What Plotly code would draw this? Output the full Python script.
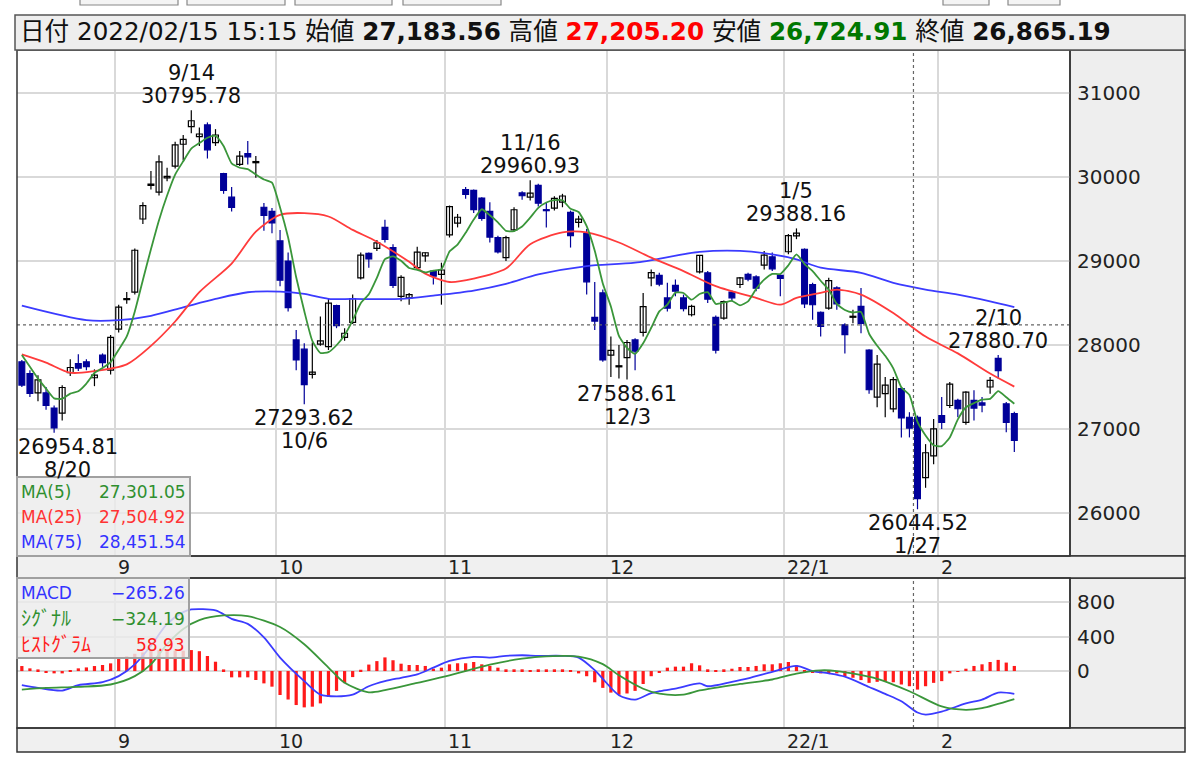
import plotly.graph_objects as go

# ---------------- data ----------------
dates = ["8/16","8/17","8/18","8/19","8/20","8/23","8/24","8/25","8/26","8/27","8/30","8/31",
 "9/1","9/2","9/3","9/6","9/7","9/8","9/9","9/10","9/13","9/14","9/15","9/16","9/17","9/21","9/22","9/24","9/27","9/28","9/29","9/30",
 "10/1","10/4","10/5","10/6","10/7","10/8","10/11","10/12","10/13","10/14","10/15","10/18","10/19","10/20","10/21","10/22","10/25","10/26","10/27","10/28","10/29",
 "11/1","11/2","11/4","11/5","11/8","11/9","11/10","11/11","11/12","11/15","11/16","11/17","11/18","11/19","11/22","11/24","11/25","11/26","11/29","11/30",
 "12/1","12/2","12/3","12/6","12/7","12/8","12/9","12/10","12/13","12/14","12/15","12/16","12/17","12/20","12/21","12/22","12/23","12/24","12/27","12/28","12/29","12/30",
 "1/4","1/5","1/6","1/7","1/11","1/12","1/13","1/14","1/17","1/18","1/19","1/20","1/21","1/24","1/25","1/26","1/27","1/28","1/31",
 "2/1","2/2","2/3","2/4","2/7","2/8","2/9","2/10","2/14","2/15"]

opens = [27800,27660,27430,27430,27250,27190,27670,27780,27800,27610,27880,27700,
 28190,28540,28630,29500,29900,29820,29990,30130,30390,30600,30480,30620,30410,30040,29760,30150,30280,30170,29640,29590,
 29240,29000,28060,27950,27650,28010,27980,28470,28090,28270,28800,29090,29150,29400,29160,28580,28560,28920,29060,28880,28840,
 29310,29450,29850,29840,29750,29590,29280,29040,29370,29810,29760,29900,29600,29630,29700,29580,29460,29330,28330,28620,
 27880,27740,27850,28060,28150,28800,28830,28560,28710,28560,28360,28870,28860,28330,28320,28630,28720,28840,28810,28950,29050,28830,
 29110,29300,29140,28720,28390,28440,28680,28240,28330,28460,27940,27380,27420,27240,27480,27140,27140,26420,26680,
 27160,27280,27340,27080,27340,27310,27500,27840,27300,27183.56]
highs = [27820,27700,27640,27500,27280,27520,27830,27890,27830,27710,27900,28120,
 28480,28630,29150,29700,30070,30260,30110,30420,30500,30795.78,30590,30650,30570,30050,29880,30310,30430,30250,29690,29630,
 29370,29100,28180,28020,28030,28340,28560,28480,28200,28600,29100,29100,29250,29490,29200,28830,28620,29170,29100,28880,28980,
 29660,29560,29880,29850,29760,29700,29300,29300,29640,29830,29960.93,29920,29690,29770,29800,29600,29540,29380,28750,28660,
 28100,28000,28060,28080,28620,28900,28860,28740,28780,28600,28480,29070,28880,28350,28530,28650,28810,28860,28830,29120,29100,28840,
 29320,29388.16,29150,28740,28400,28800,28700,28260,28420,28680,27950,27880,27620,27620,27500,27200,27160,26820,27120,
 27380,27560,27360,27450,27460,27380,27620,27880.70,27320,27205.20]
lows = [27500,27380,27330,27230,26954.81,27100,27630,27690,27700,27510,27740,27650,
 28150,28490,28600,29440,29850,29780,29950,30100,30200,30520,30370,30220,30370,29800,29590,30130,30150,29990,29360,29330,
 28700,28400,27700,27293.62,27600,27990,27940,28200,28050,28250,28780,28920,29120,29220,28680,28520,28480,28900,28990,28720,28480,
 29280,29400,29740,29570,29480,29220,29090,29000,29350,29730,29720,29650,29400,29600,29640,29160,29400,28600,28180,27800,
 27620,27600,27588.61,27700,28100,28700,28700,28400,28580,28400,28340,28850,28500,27900,28300,28520,28680,28760,28640,28900,28880,28580,
 29080,29260,28440,28300,28100,28420,28420,27900,28260,28140,27420,27260,27140,27200,26900,26900,26044.52,26300,26580,
 27000,27250,27140,27050,27100,27200,27420,27600,26960,26724.91]
closes = [27523,27424,27585,27281,27013,27494,27732,27725,27742,27641,27789,28090,
 28451,28544,29128,29660,29916,30181,30008,30382,30447,30670,30512,30323,30500,29840,29639,30249,30240,30184,29544,29453,
 28771,28445,27822,27529,27678,28049,28498,28231,28140,28551,29069,29025,29216,29256,28709,28805,28600,29106,29098,28820,28893,
 29647,29521,29794,29612,29507,29285,29107,29278,29610,29777,29808,29688,29599,29746,29774,29303,29499,28752,28284,27822,
 27936,27753,28030,27927,28456,28861,28725,28438,28640,28433,28460,29066,28546,27938,28518,28562,28798,28783,28676,29069,28907,28792,
 29302,29332,28488,28479,28222,28766,28489,28124,28334,28257,27467,27773,27522,27588,27131,27011,26170,26717,27002,
 27078,27534,27241,27440,27249,27285,27580,27696,27080,26865.19]

ma5 = [27880,27740,27600,27480,27365,27359,27421,27449,27541,27667,27726,27797,
 27943,28103,28400,28775,29140,29486,29779,30029,30187,30338,30404,30467,30490,30369,30163,30110,30094,30030,29971,29934,
 29638,29279,28807,28404,28049,27905,27915,27997,28119,28294,28498,28603,28800,29023,29055,29002,28917,28895,28864,28886,28903,
 29113,29196,29335,29493,29616,29544,29461,29358,29357,29411,29516,29632,29696,29724,29723,29622,29584,29415,29122,28732,
 28459,28109,27965,27894,28020,28205,28400,28481,28624,28619,28539,28607,28629,28489,28506,28526,28472,28520,28667,28778,28847,28845,
 28949,29080,28964,28879,28765,28657,28489,28416,28387,28394,28134,27991,27871,27721,27496,27405,27084,26923,26806,
 26796,26900,27114,27259,27308,27350,27359,27450,27378,27301.05]

ma25_on = ["8/16","8/19","8/24","8/27","9/2","9/7","9/10","9/15","9/22","9/28","10/1","10/6","10/11","10/14","10/19",
 "10/25","10/27","11/1","11/5","11/11","11/16","11/22","11/26","12/2","12/8","12/14","12/20","12/27","12/30","1/5",
 "1/11","1/13","1/18","1/24","1/28","2/3","2/9","2/15"]
ma25 = [27888,27790,27670,27690,27770,27990,28280,28630,28970,29350,29550,29570,29530,29370,29230,
 28990,28850,28750,28790,28910,29200,29340,29340,29220,29040,28880,28700,28560,28480,28560,
 28620,28660,28600,28380,28100,27900,27660,27504.92]

ma75_on = ["8/16","8/26","9/1","9/7","9/13","9/17","9/27","10/1","10/6","10/11","10/14","10/22","10/28","11/5","11/11",
 "11/17","11/26","12/6","12/16","12/23","12/29","1/5","1/11","1/18","1/24","1/28","2/3","2/9","2/15"]
ma75 = [28468,28296,28296,28348,28448,28548,28628,28636,28608,28550,28548,28548,28588,28648,28728,
 28840,28940,28980,29108,29120,29080,29020,28920,28860,28740,28660,28600,28520,28451.54]

macd_on = ["8/16","8/18","8/23","8/25","8/30","9/1","9/3","9/7","9/9","9/13","9/14","9/17","9/22","9/27","9/29",
 "10/1","10/6","10/8","10/12","10/14","10/18","10/20","10/22","10/26","10/28","11/1","11/5","11/9","11/11","11/15",
 "11/17","11/22","11/25","11/29","11/30","12/2","12/6","12/8","12/9","12/13","12/16","12/17","12/22","12/24","12/29",
 "1/5","1/7","1/12","1/14","1/19","1/21","1/25","1/27","1/28","2/1","2/4","2/8","2/10","2/15"]
macd = [-164,-195,-226,-164,-129,-59,78,293,546,683,714,702,605,546,390,
 156,-117,-273,-293,-273,-176,-117,-78,-39,39,117,164,156,176,183,
 176,176,156,10,-91,-280,-332,-255,-234,-205,-144,-176,-125,-85,-10,
 59,0,-27,-66,-185,-265,-350,-480,-505,-470,-375,-332,-250,-265.26]

signal_on = ["8/16","8/19","8/25","8/31","9/3","9/7","9/9","9/13","9/15","9/21","9/27","10/1","10/6","10/11","10/13",
 "10/18","10/20","10/26","11/1","11/9","11/15","11/17","11/25","11/30","12/2","12/7","12/9","12/14","12/16","12/23",
 "12/29","1/5","1/11","1/13","1/20","1/26","2/1","2/4","2/8","2/15"]
signal = [-215,-195,-183,-156,-59,78,312,488,590,644,636,510,310,40,-137,
 -246,-222,-137,-50,75,144,165,168,80,-50,-205,-262,-273,-225,-150,
 -98,-30,8,0,-90,-234,-410,-449,-429,-324.19]

hist = [58,31,19,-20,-27,-27,5,31,42,58,70,89,
 140,170,200,215,234,242,238,236,236,243,230,174,108,19,-73,-73,-73,-104,-143,-181,
 -278,-330,-394,-421,-413,-375,-300,-230,-140,-70,15,75,115,158,125,85,70,70,59,27,39,
 78,90,90,105,78,59,39,20,20,20,12,20,20,20,20,12,-27,-60,-130,-195,
 -250,-275,-260,-230,-150,-60,-12,39,51,51,90,66,20,12,20,27,47,47,59,78,78,90,
 105,66,8,-12,-27,-20,-27,-59,-78,-105,-137,-125,-117,-130,-156,-176,-215,-176,-137,
 -117,-27,-5,27,59,78,105,129,98,58.93]

month_labels = {"9/1": "9", "10/1": "10", "11/1": "11", "12/1": "12", "1/4": "22/1", "2/1": "2"}
peaks = ["9/14", "11/16", "1/5", "2/10"]
troughs = ["8/20", "10/6", "12/3", "1/27"]
price_ticks = [26000, 27000, 28000, 29000, 30000, 31000]
macd_ticks = [0, 400, 800]
stamp = "2022/02/15 15:15"
cross_price = 28240
cross_day = "1/27"

# ---------------- helpers ----------------
W, H = 1200, 758
L, R, T, B = 17, 1070, 50, 728


def px(x):
    return (x - L) / (R - L)


def py(y):
    return (B - y) / (B - T)


pos = {d: i for i, d in enumerate(dates)}
X = list(range(len(dates)))
XR = [-0.6, 129.9]
bounds = [pos[d] - 0.5 for d in month_labels]

FONT = "DejaVu Sans, Noto Sans CJK JP, sans-serif"
GRID = "#d9d9d9"
GREEN, RED, BLUE, NAVY = "#3a963a", "#ff3b3b", "#3b3bff", "#000099"

fig = go.Figure()

# ---- candles: wicks (scatter segments) + bodies (bars) ----
up = [c >= o for o, c in zip(opens, closes)]
for want, col in ((True, "#000000"), (False, NAVY)):
    wx, wy = [], []
    for i in X:
        if up[i] == want:
            wx += [i, i, None]
            wy += [lows[i], highs[i], None]
    fig.add_trace(go.Scatter(x=wx, y=wy, xaxis="x2", yaxis="y", mode="lines",
                             line=dict(color=col, width=1.2), hoverinfo="skip"))
MIN_BODY = 12
fig.add_trace(go.Bar(
    x=X, y=[max(abs(c - o), MIN_BODY) for o, c in zip(opens, closes)],
    base=[min(o, c) for o, c in zip(opens, closes)], xaxis="x2", yaxis="y", width=0.72,
    marker=dict(color=["#ffffff" if u else NAVY for u in up],
                line=dict(color=["#000000" if u else NAVY for u in up], width=1.2)),
    hoverinfo="skip"))

fig.add_trace(go.Scatter(x=[pos[d] for d in ma75_on], y=ma75, xaxis="x2", yaxis="y", mode="lines",
                         line=dict(color=BLUE, width=1.8, shape="spline", smoothing=0.8), hoverinfo="skip"))
fig.add_trace(go.Scatter(x=[pos[d] for d in ma25_on], y=ma25, xaxis="x2", yaxis="y", mode="lines",
                         line=dict(color=RED, width=1.8, shape="spline", smoothing=0.8), hoverinfo="skip"))
fig.add_trace(go.Scatter(x=X, y=ma5, xaxis="x2", yaxis="y", mode="lines",
                         line=dict(color=GREEN, width=1.8, shape="spline", smoothing=0.5), hoverinfo="skip"))

fig.add_trace(go.Bar(x=X, y=hist, xaxis="x", yaxis="y2", width=0.4,
                     marker=dict(color="#ff1a1a", line=dict(width=0)), hoverinfo="skip"))
fig.add_trace(go.Scatter(x=[pos[d] for d in macd_on], y=macd, xaxis="x", yaxis="y2", mode="lines",
                         line=dict(color=BLUE, width=1.8, shape="spline", smoothing=0.8), hoverinfo="skip"))
fig.add_trace(go.Scatter(x=[pos[d] for d in signal_on], y=signal, xaxis="x", yaxis="y2", mode="lines",
                         line=dict(color=GREEN, width=1.8, shape="spline", smoothing=0.8), hoverinfo="skip"))

xcommon = dict(range=XR, tickvals=bounds, showticklabels=False, showgrid=True, gridcolor=GRID,
               gridwidth=2, zeroline=False, showline=False, ticks="", fixedrange=True)
fig.update_layout(
    width=W, height=H, showlegend=False, barmode="overlay",
    paper_bgcolor="white", plot_bgcolor="white",
    margin=dict(l=L, r=W - R, t=T, b=H - B),
    xaxis=dict(anchor="y2", domain=[0, 1], **xcommon),
    xaxis2=dict(anchor="y", domain=[0, 1], matches="x", **xcommon),
    yaxis=dict(domain=[py(556), 1], range=[25488, 31512], side="right", tickvals=price_ticks,
               ticktext=[str(v) for v in price_ticks], showgrid=True, gridcolor=GRID, gridwidth=2,
               zeroline=False, showline=False, ticks="", ticklabelstandoff=6, fixedrange=True,
               tickfont=dict(family=FONT, size=20, color="#222")),
    yaxis2=dict(domain=[0, py(578)], range=[-660, 1078], side="right", tickvals=macd_ticks,
                ticktext=[str(v) for v in macd_ticks], showgrid=True, gridcolor=GRID, gridwidth=2,
                zeroline=False, showline=False, ticks="", ticklabelstandoff=6, fixedrange=True,
                tickfont=dict(family=FONT, size=20, color="#222")),
)

shapes = []
DARK = "#333333"
# right axis panels
shapes.append(dict(type="rect", xref="paper", yref="paper", x0=1, x1=px(1185), y0=py(556), y1=1,
                   fillcolor="#eeeeee", line=dict(color=DARK, width=1.5), layer="below"))
shapes.append(dict(type="rect", xref="paper", yref="paper", x0=1, x1=px(1185), y0=0, y1=py(578),
                   fillcolor="#eeeeee", line=dict(color=DARK, width=1.5), layer="below"))
# crosshair
shapes.append(dict(type="line", xref="paper", yref="y", x0=0, x1=1, y0=cross_price, y1=cross_price,
                   line=dict(color="#666", width=1.2, dash="dot")))
shapes.append(dict(type="line", xref="x", yref="paper", x0=pos[cross_day] - 0.5, x1=pos[cross_day] - 0.5,
                   y0=0, y1=1, line=dict(color="#666", width=1.2, dash="dot")))
# axis strips
shapes.append(dict(type="rect", xref="paper", yref="paper", x0=0, x1=px(1185), y0=py(578), y1=py(556),
                   fillcolor="#f0f0f0", line=dict(color=DARK, width=1.5), layer="above"))
shapes.append(dict(type="rect", xref="paper", yref="paper", x0=0, x1=px(1185), y0=py(752), y1=0,
                   fillcolor="#f0f0f0", line=dict(color=DARK, width=1.5), layer="above"))
# main frames
shapes.append(dict(type="rect", xref="paper", yref="paper", x0=0, x1=1, y0=py(556), y1=1,
                   line=dict(color=DARK, width=1.5), layer="above"))
shapes.append(dict(type="rect", xref="paper", yref="paper", x0=0, x1=1, y0=0, y1=py(578),
                   line=dict(color=DARK, width=1.5), layer="above"))
# header box
shapes.append(dict(type="rect", xref="paper", yref="paper", x0=px(15), x1=px(1185), y0=py(50), y1=py(15),
                   fillcolor="#eeeeee", line=dict(color="#555", width=1.5), layer="above"))
# top buttons (cut)
for a, b in [(80, 178), (187, 285), (295, 392), (403, 501), (943, 989), (1008, 1060)]:
    shapes.append(dict(type="rect", xref="paper", yref="paper", x0=px(a), x1=px(b), y0=py(5), y1=py(-10),
                       fillcolor="#f4f4f4", line=dict(color="#888", width=1.2), layer="above"))
# legend boxes
shapes.append(dict(type="rect", xref="paper", yref="paper", x0=px(17), x1=px(190), y0=py(556), y1=py(477),
                   fillcolor="rgba(236,236,236,0.82)", line=dict(color="#a0a0a0", width=2), layer="above"))
shapes.append(dict(type="rect", xref="paper", yref="paper", x0=px(17), x1=px(189), y0=py(658), y1=py(578),
                   fillcolor="rgba(236,236,236,0.82)", line=dict(color="#a0a0a0", width=2), layer="above"))
fig.update_layout(shapes=shapes)

ann = []
# header
o, h, lo, c = opens[-1], highs[-1], lows[-1], closes[-1]
header = (f"日付 {stamp} 始値 <b>{o:,.2f}</b> 高値 <b><span style='color:#ff0000'>{h:,.2f}</span></b> "
          f"安値 <b><span style='color:#007700'>{lo:,.2f}</span></b> 終値 <b>{c:,.2f}</b>")
ann.append(dict(text=header, xref="paper", yref="paper", x=px(18), y=py(32), xanchor="left", yanchor="middle",
                showarrow=False, font=dict(family=FONT, size=24.6, color="#111")))
# month labels
for d, lab in month_labels.items():
    for yy in (567, 741):
        ann.append(dict(text=lab, xref="x", yref="paper", x=pos[d] - 0.5, y=py(yy), xanchor="left",
                        yanchor="middle", xshift=1, showarrow=False,
                        font=dict(family=FONT, size=19, color="#222")))
# extremes
half = 6.3
for d in peaks:
    i = pos[d]
    xx = min(max(i, XR[0] + half), XR[1] - half)
    ann.append(dict(text=f"{highs[i]:.2f}", xref="x2", yref="y", x=xx, y=highs[i], xanchor="center",
                    yanchor="bottom", showarrow=False, font=dict(family=FONT, size=21, color="#111")))
    ann.append(dict(text=d, xref="x2", yref="y", x=xx, y=highs[i], xanchor="center", yanchor="bottom",
                    yshift=23, showarrow=False, font=dict(family=FONT, size=21, color="#111")))
for d in troughs:
    i = pos[d]
    xx = min(max(i, XR[0] + half), XR[1] - half)
    ann.append(dict(text=f"{lows[i]:.2f}", xref="x2", yref="y", x=xx, y=lows[i], xanchor="center",
                    yanchor="top", showarrow=False, font=dict(family=FONT, size=21, color="#111")))
    ann.append(dict(text=d, xref="x2", yref="y", x=xx, y=lows[i], xanchor="center", yanchor="top",
                    yshift=-23, showarrow=False, font=dict(family=FONT, size=21, color="#111")))
# MA legend
rows = [("MA(5)", ma5[-1], "#2f8f2f"), ("MA(25)", ma25[-1], "#ff3333"), ("MA(75)", ma75[-1], "#3333ff")]
for k, (lab, v, col) in enumerate(rows):
    yy = 492 + 25 * k
    ann.append(dict(text=lab, xref="paper", yref="paper", x=px(19), y=py(yy), xanchor="left", yanchor="middle",
                    showarrow=False, font=dict(family=FONT, size=17, color=col)))
    ann.append(dict(text=f"{v:,.2f}", xref="paper", yref="paper", x=px(188), y=py(yy), xanchor="right",
                    yanchor="middle", showarrow=False, font=dict(family=FONT, size=17, color=col)))
# MACD legend
rows = [("MACD", macd[-1], "#3333ff"), ("<span style='font-size:20px'>ｼｸﾞﾅﾙ</span>", signal[-1], "#2f8f2f"),
        ("<span style='font-size:20px'>ﾋｽﾄｸﾞﾗﾑ</span>", hist[-1], "#ff2222")]
for k, (lab, v, col) in enumerate(rows):
    yy = 593 + 26 * k
    ann.append(dict(text=lab, xref="paper", yref="paper", x=px(19), y=py(yy), xanchor="left", yanchor="middle",
                    showarrow=False, font=dict(family=FONT, size=17, color=col)))
    ann.append(dict(text=f"{v:.2f}".replace("-", "\u2212"), xref="paper", yref="paper", x=px(187), y=py(yy),
                    xanchor="right", yanchor="middle", showarrow=False, font=dict(family=FONT, size=17, color=col)))
fig.update_layout(annotations=ann)

fig.write_html("out.html", config={"displayModeBar": False},
               post_script="document.body.style.margin='0';document.body.style.overflow='hidden';")
